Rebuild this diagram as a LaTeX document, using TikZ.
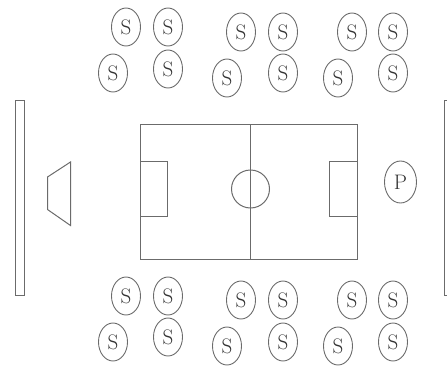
\documentclass[tikz,border=0pt]{standalone}
\definecolor{linegray}{gray}{0.42}
\definecolor{inkgray}{gray}{0.2}
\tikzset{
  px/.style={x=1pt,y=-1pt},
  seat/.style={line width=0.9pt,draw=linegray},
  plan/.style={line width=1pt,draw=linegray},
  fan/.style={font=\fontsize{21}{21}\selectfont,text=inkgray,inner sep=0pt},
}
\newcommand{\fanat}[3]{%
  \draw[seat] (#1,#2) ellipse [x radius=14.5,y radius=19];
  \node[fan] (#3) at (#1,#2) {S};
}
\begin{document}
\begin{tikzpicture}[px]
\useasboundingbox (0,0) rectangle (447,367);
% stands
\fanat{126}{27}{a1}\fanat{168}{27}{a2}\fanat{241}{32}{a3}\fanat{283}{32}{a4}\fanat{352}{32}{a5}\fanat{393}{32}{a6}
\fanat{113}{73}{b1}\fanat{168}{69}{b2}\fanat{227}{78}{b3}\fanat{283}{73}{b4}\fanat{338}{78}{b5}\fanat{393}{73}{b6}
\fanat{126}{296}{c1}\fanat{168}{296}{c2}\fanat{241}{300}{c3}\fanat{283}{300}{c4}\fanat{352}{300}{c5}\fanat{393}{300}{c6}
\fanat{113}{342}{d1}\fanat{168}{337}{d2}\fanat{227}{346}{d3}\fanat{283}{342}{d4}\fanat{338}{346}{d5}\fanat{393}{342}{d6}
% field
\draw[plan] (140,124.5) rectangle (357,259);
\draw[plan] (250.5,124.5) -- (250.5,259);
\draw[plan] (250.5,189) circle [radius=19];
\draw[plan] (140,161) rectangle (167.5,216.5);
\draw[plan] (329.5,161) rectangle (357,216.5);
% side bars and stage
\draw[plan] (15.5,100.5) rectangle (24.5,295.5);
\draw[plan] (448,100.5) -- (444.7,100.5) -- (444.7,295.5) -- (448,295.5);
\draw[plan] (47.5,177) -- (70.5,162) -- (70.5,225.5) -- (47.5,209.5) -- cycle;
% P
\draw[seat] (400.5,182) ellipse [x radius=16,y radius=21];
\node[fan] (p) at (400.5,182) {P};
\end{tikzpicture}
\end{document}
